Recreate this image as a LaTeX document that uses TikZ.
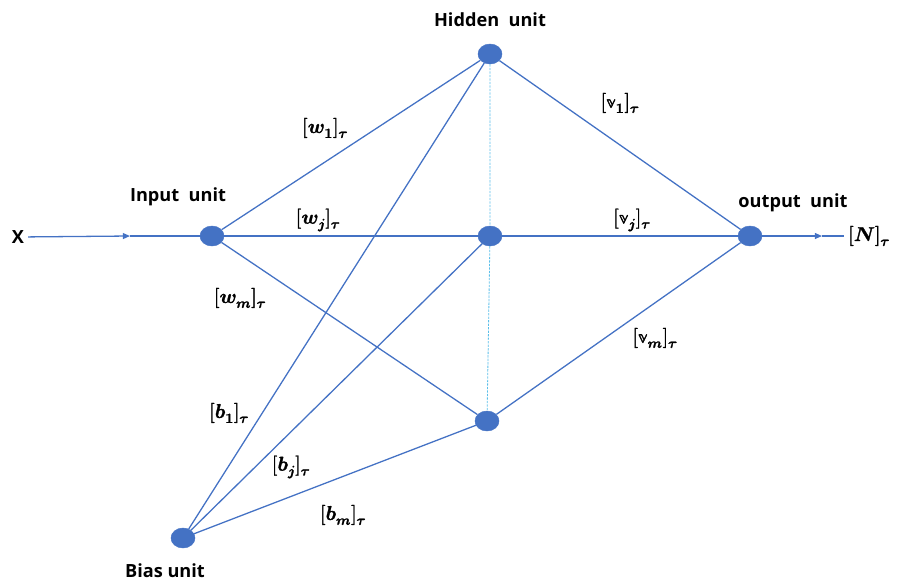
\documentclass[tikz,border=0pt]{standalone}
\usepackage{fontspec}
\usepackage{unicode-math}
\setmathfont{Latin Modern Math}[FakeBold=1.6]
\newfontfamily\unitfont{Open Sans}
\usetikzlibrary{arrows.meta, positioning, shapes.geometric}
\definecolor{nnblue}{HTML}{4472C4}
\definecolor{nncyan}{HTML}{5BBFEA}
\newcommand{\wlab}[2]{$[#1_{#2}]_{\symbfit{\tau}}$}

\begin{document}
\begin{tikzpicture}[
  x=0.03cm, y=-0.03cm,
  every node/.style={font=\fontsize{17}{19}\selectfont},
  unit/.style={ellipse, fill=nnblue, draw=nnblue, minimum width=0.72cm, minimum height=0.6cm, inner sep=0pt},
  wire/.style={nnblue, line width=1.1pt},
  arr/.style={wire, -{Triangle[length=6pt,width=5pt]}},
  unitlab/.style={font=\unitfont\bfseries\fontsize{15.5}{17}\selectfont},
]
\useasboundingbox (0,0) rectangle (900,583);
% units
\node[unit] (in) at (212,236) {};
\node[unit] (h1) at (490,54) {};
\node[unit] (hj) at (490,236) {};
\node[unit] (hm) at (487,421) {};
\node[unit] (out) at (750,236) {};
\node[unit] (bias) at (183,538) {};
% unit titles
\node[unitlab] at (490,20) {Hidden\ \ unit};
\node[unitlab] at (178,197) {Input\ \ unit};
\node[unitlab] at (793,203) {output\ \ unit};
\node[unitlab] at (165,571) {Bias unit};
% input and output
\node[unitlab] (x) at (18,237) {X};
\coordinate (xtip) at (130,236);
\draw[arr] (x) -- (xtip);\draw[wire] (xtip) -- (in);
\node (n) at (869,236) {$[\symbfit{N}]_{\symbfit{\tau}}$};
\coordinate (ntip) at (822,236);
\draw[arr] (out) -- (ntip);\draw[wire] (ntip) -- (n);
% hidden column
\draw[nncyan, dashed, dash pattern=on 2pt off 1pt, line width=0.7pt] (h1) -- (hj) -- (hm);
% weights
\draw[wire] (in)--(h1);\draw[wire] (in)--(hj);\draw[wire] (in)--(hm);
\draw[wire] (h1)--(out);\draw[wire] (hj)--(out);\draw[wire] (hm)--(out);
\draw[wire] (bias)--(h1);\draw[wire] (bias)--(hj);\draw[wire] (bias)--(hm);
% weight labels
\node at (325,128) {\wlab{\symbfit{w}}{\symbf{1}}};
\node at (318,220) {\wlab{\symbfit{w}}{\symbfit{j}}};
\node at (240,298) {\wlab{\symbfit{w}}{\symbfit{m}}};
\node at (620,103) {\wlab{\mathbb{v}}{\symbf{1}}};
\node at (632,220) {\wlab{\mathbb{v}}{\symbfit{j}}};
\node at (655,338) {\wlab{\mathbb{v}}{\symbfit{m}}};
\node at (229,413) {\wlab{\symbfit{b}}{\symbf{1}}};
\node at (291,467) {\wlab{\symbfit{b}}{\symbfit{j}}};
\node at (343,515) {\wlab{\symbfit{b}}{\symbfit{m}}};
\end{tikzpicture}
\end{document}
